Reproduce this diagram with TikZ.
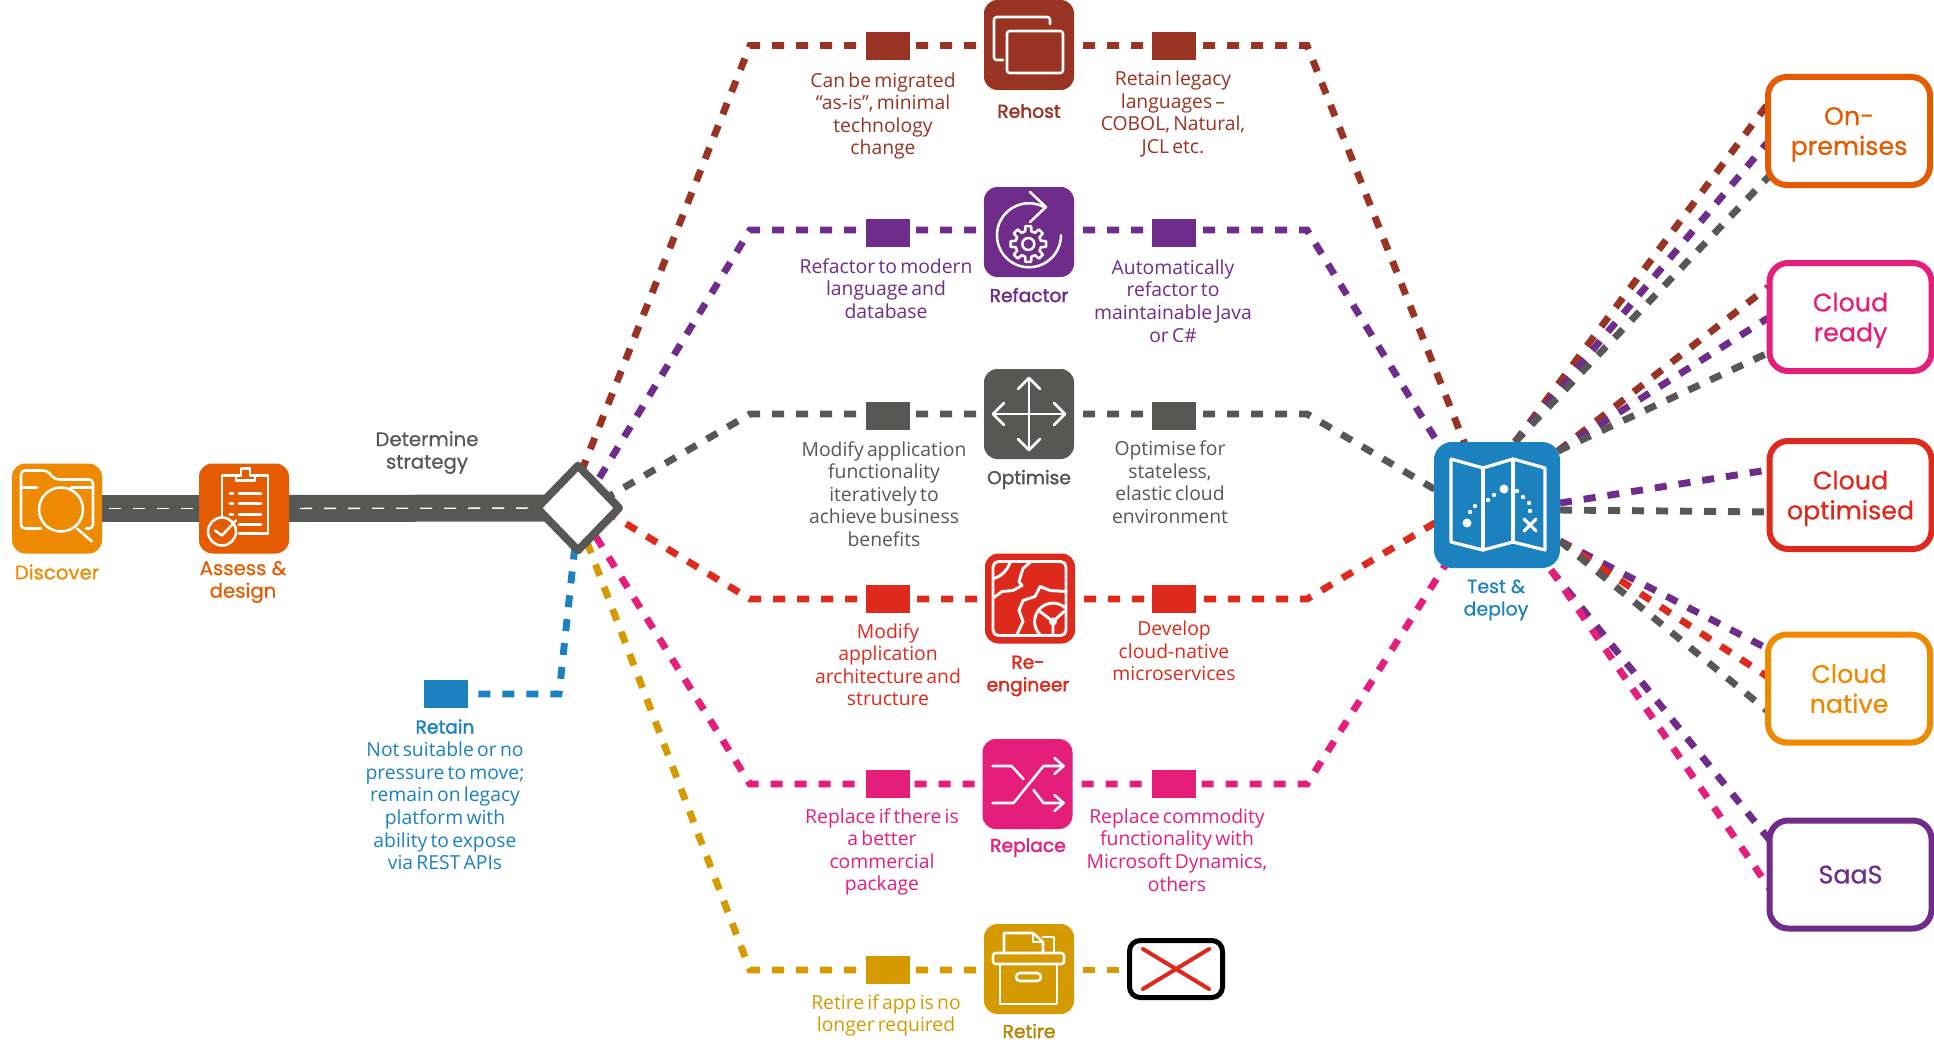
\documentclass[tikz,border=0pt]{standalone}
\usepackage{fontspec}
\setmainfont[WordSpace=0.65]{Open Sans}
\newfontfamily\labelfont[FakeBold=0.6]{Poppins}
\newfontfamily\stratfont[FakeBold=1.8]{Poppins}
\usetikzlibrary{shapes.geometric,backgrounds}
\definecolor{discoverorange}{HTML}{EE8A00}
\definecolor{assessorange}{HTML}{E55B00}
\definecolor{roadgrey}{HTML}{575756}
\definecolor{rehostbrown}{HTML}{993323}
\definecolor{refactorpurple}{HTML}{6F2C8A}
\definecolor{reengineerred}{HTML}{DE2A1D}
\definecolor{replacepink}{HTML}{E61E7B}
\definecolor{retiregold}{HTML}{D49A00}
\definecolor{retainblue}{HTML}{1B82BF}
\tikzset{
  dashlink/.style={draw=#1,line width=5.2pt,dash pattern=on 9pt off 9pt},
  iconbox/.style={fill=#1,rounded corners=10pt,minimum size=67.5pt,inner sep=0pt,outer sep=0pt},
  notebox/.style={fill=#1,minimum width=33pt,minimum height=21pt,inner sep=0pt},
  iconline/.style={draw=white,line width=1.9pt,line join=round,line cap=round},
  stratname/.style={text=#1,align=center,font=\stratfont\fontsize{14}{16.9}\selectfont},
  plainname/.style={text=#1,align=center,font=\labelfont\fontsize{14.8}{16.9}\selectfont},
  notetext/.style={text=#1,align=center,font=\fontsize{14.5}{16.9}\selectfont},
  targetbox/.style={draw=#1,text=#1,fill=white,line width=4.5pt,rounded corners=14pt,align=center,
    minimum width=121.5pt,minimum height=81pt,inner sep=0pt,text depth=0pt,font=\labelfont\fontsize{19}{22.5}\selectfont}
}
\begin{document}
\begin{tikzpicture}[x=0.75pt,y=-0.75pt]
\useasboundingbox (0,0) rectangle (1934,1056);

\node[iconbox=discoverorange] (discover) at (57,508.5) {};
\node[iconbox=assessorange] (assess) at (244,508.5) {};
\node[plainname=discoverorange] (discover-name) at (57,572) {Discover};
\node[plainname=assessorange] (assess-name) at (243,582) {Assess \&\\design};
\node[plainname=roadgrey] (strategy-name) at (427,452.5) {Determine\\strategy};
\node[diamond,draw=roadgrey,fill=white,line width=6pt,line join=round,inner sep=0pt,
  minimum width=64pt,minimum height=66pt] (strategy) at (578,508) {};

\foreach \strat/\col/\ix/\iy/\ly/\sy in {rehost/rehostbrown/1029/45/45.5/46,
    refactor/refactorpurple/1029/232/230/233,
    optimise/roadgrey/1029/414/414/416,
    reengineer/reengineerred/1030/598.5/599/599,
    replace/replacepink/1027.5/784/784/784,
    retire/retiregold/1029/969/970/970}{
  \node[iconbox=\col] (\strat) at (\ix,\iy) {};
  \node[notebox=\col] (\strat-in) at (888,\sy) {};
  \coordinate (\strat-bend) at (750,\ly);
}
\foreach \strat/\col/\ly/\sy in {rehost/rehostbrown/45.5/46,
    refactor/refactorpurple/230/233,
    optimise/roadgrey/414/416,
    reengineer/reengineerred/599/599,
    replace/replacepink/784/784}{
  \node[notebox=\col] (\strat-out) at (1174,\sy) {};
  \coordinate (\strat-turn) at (1307,\ly);
}

\node[stratname=rehostbrown] (rehost-name) at (1029,111) {Rehost};
\node[stratname=refactorpurple] (refactor-name) at (1029,295) {Refactor};
\node[stratname=roadgrey] (optimise-name) at (1029,479.5) {Optimise};
\node[stratname=reengineerred] (reengineer-name) at (1028,676) {Re-\\engineer};
\node[stratname=replacepink] (replace-name) at (1028,847.5) {Replace};
\node[stratname=retiregold!85!black] (retire-name) at (1029,1031) {Retire};

\node[notetext=rehostbrown] (rehost-left) at (883,116) {Can be migrated\\“as-is”, minimal\\technology\\change};
\node[notetext=rehostbrown] (rehost-right) at (1173,114) {Retain legacy\\languages –\\COBOL, Natural,\\JCL etc.};
\node[notetext=refactorpurple] (refactor-left) at (886,288.5) {Refactor to modern\\language and\\database};
\node[notetext=refactorpurple] (refactor-right) at (1173,301) {Automatically\\refactor to\\maintainable Java\\or C\#};
\node[notetext=roadgrey] (optimise-left) at (884,494) {Modify application\\functionality\\iteratively to\\achieve business\\benefits};
\node[notetext=roadgrey] (optimise-right) at (1170,482) {Optimise for\\stateless,\\elastic cloud\\environment};
\node[notetext=reengineerred] (reengineer-left) at (888,664.5) {Modify\\application\\architecture and\\structure};
\node[notetext=reengineerred] (reengineer-right) at (1174,651) {Develop\\cloud-native\\microservices};
\node[notetext=replacepink] (replace-left) at (882,852) {Replace if there is\\a better\\commercial\\package};
\node[notetext=replacepink] (replace-right) at (1177,850) {Replace commodity\\functionality with\\Microsoft Dynamics,\\others};
\node[notetext=retiregold] (retire-left) at (886,1015.5) {Retire if app is no\\longer required};

\node[notebox=retainblue] (retain) at (446,694) {};
\node[stratname=retainblue] (retain-name) at (445,726.5) {Retain};
\node[notetext=retainblue] (retain-note) at (445,806) {Not suitable or no\\pressure to move;\\remain on legacy\\platform with\\ability to expose\\via REST APIs};
\coordinate (retain-bend) at (559,694);

\node[draw=black,fill=white,line width=3.75pt,rounded corners=8pt,minimum width=69.75pt,minimum height=42.75pt,inner sep=0pt] (dropped) at (1176,969) {};
\draw[reengineerred,line width=3pt,line cap=round,shift={(dropped.center)}] (-33,-20) -- (33,20) (-33,20) -- (33,-20);

\node[iconbox=retainblue,minimum size=94.5pt,rounded corners=13.5pt] (deploy) at (1497,505) {};
\node[plainname=retainblue,font=\labelfont\fontsize{14.2}{16.9}\selectfont] (deploy-name) at (1496,600) {Test \&\\deploy};

\node[targetbox=assessorange] (onprem) at (1849,131) {On-\\premises};
\node[targetbox=replacepink] (ready) at (1850.5,317) {Cloud\\ready};
\node[targetbox=reengineerred] (optimised) at (1850.5,495) {Cloud\\optimised};
\node[targetbox=discoverorange] (native) at (1849,688.5) {Cloud\\native};
\node[targetbox=refactorpurple] (saas) at (1850.5,874.5) {SaaS};

\coordinate (rehost-aim) at (567,508);
\coordinate (refactor-aim) at (581,508);
\coordinate (optimise-aim) at (582,512);
\coordinate (reengineer-aim) at (582,497);
\coordinate (replace-aim) at (578,508);
\coordinate (retire-aim) at (574,508);
\coordinate (retain-aim) at (579,508);
\coordinate (rehost-entry) at (1489,505);
\coordinate (refactor-entry) at (1476,505);
\coordinate (optimise-entry) at (1497,526);
\coordinate (reengineer-entry) at (1497,486);
\coordinate (replace-entry) at (1480,510);
\coordinate (fan-north) at (1515,442);
\coordinate (fan-ready) at (1558,451);
\coordinate (fan-east-up) at (1560,503);
\coordinate (fan-east) at (1560,510);
\coordinate (fan-native) at (1560,541);
\coordinate (fan-saas) at (1551,570);
\coordinate (onprem-a) at (1767,105);
\coordinate (onprem-b) at (1767,143);
\coordinate (onprem-c) at (1772,173);
\coordinate (ready-a) at (1768,287);
\coordinate (ready-b) at (1768,318);
\coordinate (ready-c) at (1768,353);
\coordinate (optimised-a) at (1768,470);
\coordinate (optimised-b) at (1768,512);
\coordinate (native-a) at (1770,650);
\coordinate (native-b) at (1768,677);
\coordinate (native-c) at (1770,713);
\coordinate (saas-a) at (1772,843);
\coordinate (saas-b) at (1770,889);

\begin{scope}[on background layer]
  \draw[roadgrey,line width=20.25pt] (discover) -- (assess);
  \draw[roadgrey,line width=20.25pt] (assess) -- (strategy.center);
  \draw[white,line width=1pt,dash pattern=on 9pt off 9pt,dash phase=12.75pt] (discover) -- (assess);
  \draw[white,line width=1pt,dash pattern=on 9pt off 9pt,dash phase=9.75pt] (assess) -- (strategy);
  \foreach \strat/\col in {rehost/rehostbrown,refactor/refactorpurple,optimise/roadgrey,
      reengineer/reengineerred,replace/replacepink,retire/retiregold}{
    \draw[dashlink=\col,dash phase=12pt] (\strat-bend -| \strat.west) -- (\strat-bend) -- (\strat-aim);
  }
  \foreach \strat/\col in {rehost/rehostbrown,refactor/refactorpurple,optimise/roadgrey,
      reengineer/reengineerred,replace/replacepink}{
    \draw[dashlink=\col,dash phase=11.25pt] (\strat-turn -| \strat.east) -- (\strat-turn) -- (\strat-entry);
  }
  \draw[dashlink=retiregold,dash phase=11.25pt] (retire-bend -| retire.east) -- (retire-bend -| dropped.west);
  \draw[dashlink=retainblue,dash phase=10.5pt] (retain) -- (retain-bend) -- (retain-aim);
  \draw[dashlink=rehostbrown] (fan-north) -- (onprem-a);
  \draw[dashlink=refactorpurple] (fan-north) -- (onprem-b);
  \draw[dashlink=roadgrey] (fan-north) -- (onprem-c);
  \draw[dashlink=rehostbrown] (fan-ready) -- (ready-a);
  \draw[dashlink=refactorpurple] (fan-ready) -- (ready-b);
  \draw[dashlink=roadgrey] (fan-ready) -- (ready-c);
  \draw[dashlink=refactorpurple] (fan-east-up) -- (optimised-a);
  \draw[dashlink=roadgrey] (fan-east) -- (optimised-b);
  \draw[dashlink=refactorpurple] (fan-native) -- (native-a);
  \draw[dashlink=reengineerred] (fan-native) -- (native-b);
  \draw[dashlink=roadgrey] (fan-native) -- (native-c);
  \draw[dashlink=refactorpurple] (fan-saas) -- (saas-a);
  \draw[dashlink=replacepink] (fan-saas) -- (saas-b);
\end{scope}

% discover
\begin{scope}[shift={(discover.center)},iconline]
  \draw[rounded corners=3pt] (-16,20) -- (-36,20) -- (-36,-38) -- (-10,-38) -- (-2,-29) -- (36,-29) -- (36,20) -- (29,20);
  \draw (-36,-21) -- (-20,-21) (14,-21) -- (36,-21);
  \draw (4,1) circle[radius=22];
  \draw (20,20) -- (35,33);
\end{scope}
% assess
\begin{scope}[shift={(assess.center)},iconline]
  \draw (-22,9) -- (-22,-33) -- (-8,-33) (11,-33) -- (24,-33) -- (24,25) -- (-5,25);
  \draw (-8,-28) -- (-8,-33) -- (-3,-33) -- (-3,-40) -- (6,-40) -- (6,-33) -- (11,-33) -- (11,-28) -- cycle;
  \foreach \ty in {-15,-5,6}{\draw (-14,\ty) -- (-11,\ty) (-5,\ty) -- (17,\ty);}
  \draw (-5,16) -- (17,16);
  \draw (-22,23) circle[radius=14];
  \draw (-29,22) -- (-22,27) -- (-8,12);
\end{scope}
% rehost
\begin{scope}[shift={(rehost.center)},iconline]
  \draw[rounded corners=2pt] (-26,15) -- (-35,15) -- (-35,-28) -- (21,-28) -- (21,-21);
  \draw[rounded corners=2pt] (-22,-14) rectangle (34,28);
\end{scope}
% refactor
\begin{scope}[shift={(refactor.center)},iconline]
  \draw (1,-40) -- (17,-25) -- (1,-10);
  \draw (15,-25) arc[start angle=-62,end angle=-360,radius=32];
  \draw (-0.7,12) circle[radius=6];
  \draw[shift={(-0.7,12)}] (-14:13) \foreach \a in {0,45,...,315}{-- (\a-14:13) -- (\a-9:18) -- (\a+9:18) -- (\a+14:13)} -- cycle;
\end{scope}
% optimise
\begin{scope}[shift={(optimise.center)},iconline]
  \draw (-36,0) -- (36,0) (0,-36) -- (0,36);
  \foreach \turn in {0,90,180,270}{\draw[rotate=\turn] (-11,-25) -- (0,-36) -- (11,-25);}
\end{scope}
% reengineer
\begin{scope}[shift={(reengineer.center)},iconline,line width=2.2pt]
  \draw[rounded corners=4pt] (-37,-37) rectangle (36,37);
  \draw (-20,-36) to[bend left=25] (-36,-20);
  \draw (0,-36) -- (-7,-30) -- (-11,-17) -- (-8,-13) -- (-17,-8) -- (-28,-7) -- (-36,-1);
  \draw (36,-7) -- (20,-8) -- (10,-12) -- (5,-2) -- (-7,2) -- (-11,12) -- (-7,23) -- (-13,36);
  \draw (36,10) arc[start angle=-45,end angle=-225,radius=18.4];
  \draw[fill=white] (23,23) circle[radius=2.5];
  \draw (23,23) -- (10,13) (23,23) -- (34,13) (23,23) -- (23,36);
\end{scope}
% replace
\begin{scope}[shift={(replace.center)},iconline]
  \draw (-35,-18) -- (-16,-18) -- (-4,-5);
  \draw (-35,19) -- (-14,19) -- (16,-18) -- (36,-18);
  \draw (6,6) -- (16,19) -- (36,19);
  \draw (27,-26) -- (36,-18) -- (27,-10) (27,11) -- (36,19) -- (27,27);
\end{scope}
% retire
\begin{scope}[shift={(retire.center)},iconline]
  \draw[rounded corners=2pt] (-36,-16) rectangle (35,-5);
  \draw (-29,-5) -- (-29,35) -- (28,35) -- (28,-5);
  \draw[rounded corners=3pt] (-13,4) rectangle (12,12);
  \draw (-25,-16) -- (-25,-36) -- (4,-36) -- (14,-27) -- (14,-16);
  \draw (4,-36) -- (4,-27) -- (14,-27) (14,-32) -- (25,-32) -- (25,-16);
\end{scope}
% deploy
\begin{scope}[shift={(deploy.center)},iconline,line width=2.4pt]
  \draw (-46,-46) -- (-14,-37) -- (16,-46) -- (48,-37) -- (48,45) -- (16,37) -- (-14,45) -- (-46,37) -- cycle;
  \draw (-14,-37) -- (-14,45) (16,-46) -- (16,37);
  \fill[white] (-30,18) circle[radius=4.5] (7,-16) circle[radius=4.5];
  \foreach \px/\py in {-27/7,-22/1,-9/-5,-3/-10,20/-14,26/-8,32/-2,33/6}{\fill[white] (\px,\py) circle[radius=2.2];}
  \draw (27,14) -- (39,26) (27,26) -- (39,14);
\end{scope}
\end{tikzpicture}
\end{document}
